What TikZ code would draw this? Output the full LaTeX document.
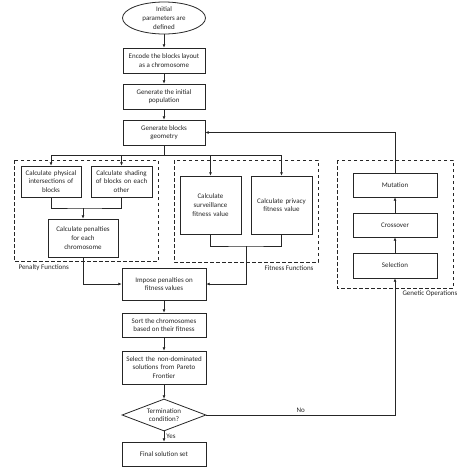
\documentclass[tikz,border=0pt]{standalone}
\usepackage{fontspec}
\setmainfont{Carlito}
\usetikzlibrary{shapes.geometric,arrows.meta}
\definecolor{ink}{HTML}{262626}
\begin{document}
\begin{tikzpicture}[x=1pt,y=-1pt,
  every node/.style={font=\fontsize{7}{8.6}\selectfont, text=ink},
  proc/.style={draw=ink, line width=0.8pt, align=center, inner sep=1pt},
  grp/.style={draw=ink, line width=0.9pt, dash pattern=on 3.5pt off 2.5pt},
  link/.style={draw=ink, line width=0.8pt},
  arr/.style={link, -{Latex[length=3.2pt,width=3pt]}},
  lbl/.style={font=\fontsize{7}{8.6}\selectfont}]
\useasboundingbox (0,0) rectangle (474,469);
% groups
\draw[grp] (14,160) rectangle (158,261);
\draw[grp] (174,160) rectangle (318,262);
\draw[grp] (337,160) rectangle (453,288);
\node[lbl, anchor=west] (lp) at (15,268) {Penalty Functions};
\node[lbl, anchor=east] (lf) at (317,268) {Fitness Functions};
\node[lbl, anchor=west] (lg) at (399,294) {Genetic Operations};
% nodes
\node[proc, ellipse, minimum width=83, minimum height=32, inner sep=0pt] (ell) at (164,18) {Initial\\parameters are\\defined};
\node[proc, minimum width=82, minimum height=25] (enc) at (164,60.5) {Encode the blocks layout\\as a chromosome};
\node[proc, minimum width=82, minimum height=25] (gen) at (164,96.5) {Generate the initial\\population};
\node[proc, minimum width=82, minimum height=25] (geo) at (164,132.5) {Generate blocks\\geometry};
\node[proc, minimum width=60, minimum height=31, text width=58] (phy) at (51,181.5) {Calculate physical\\intersections of\\blocks};
\node[proc, minimum width=61, minimum height=31, text width=59] (sha) at (121.5,181.5) {Calculate shading\\of blocks on each\\other};
\node[proc, minimum width=70, minimum height=38] (pen) at (83,238) {Calculate penalties\\for each\\chromosome};
\node[proc, minimum width=61, minimum height=58, text width=59] (sur) at (210.5,205) {Calculate\\surveillance\\fitness value};
\node[proc, minimum width=61, minimum height=58, text width=59] (pri) at (281.5,205) {Calculate privacy\\fitness value};
\node[proc, minimum width=84, minimum height=32] (imp) at (164,284) {Impose penalties on\\fitness values};
\node[proc, minimum width=84, minimum height=24] (srt) at (164,325) {Sort the chromosomes\\based on their fitness};
\node[proc, minimum width=84, minimum height=33, text width=82] (sel) at (164,367.5) {Select the non-dominated\\solutions from Pareto\\Frontier};
\node[proc, diamond, aspect=2.6, minimum width=84, minimum height=32, inner sep=0pt] (dia) at (164,415) {Termination\\condition?};
\node[proc, minimum width=84, minimum height=24] (fin) at (164,454) {Final solution set};
\node[proc, minimum width=84, minimum height=24] (mut) at (395,185) {Mutation};
\node[proc, minimum width=84, minimum height=24] (cro) at (395,225) {Crossover};
\node[proc, minimum width=84, minimum height=25] (slc) at (395,265.5) {Selection};
% coordinates
\coordinate (bus) at (164,155);
\coordinate (pj) at (83,208);
\coordinate (fj) at (246,246);
% connectors
\draw[arr] (ell) -- (enc);
\draw[arr] (enc) -- (gen);
\draw[arr] (gen) -- (geo);
\draw[link] (geo.south) -- (bus);
\draw[arr] (bus) -| (phy.north);
\draw[arr] (bus) -| (sha.north);
\draw[arr] (bus) -| (sur.north);
\draw[arr] (bus) -| (pri.north);
\draw[link] (phy.south) |- (pj) -| (sha.south);
\draw[arr] (pj) -- (pen.north);
\draw[link] (sur.south) |- (fj) -| (pri.south);
\draw[arr] (pen.south) |- (imp.west);
\draw[arr] (fj) |- (imp.east);
\draw[arr] (imp) -- (srt);
\draw[arr] (srt) -- (sel);
\draw[arr] (sel) -- (dia);
\draw[arr] (dia) -- node[lbl, right, pos=0.45, inner sep=2pt] {Yes} (fin);
\draw[arr] (dia.east) -| node[lbl, above, pos=0.25, inner sep=2pt] {No} (slc.south);
\draw[arr] (slc) -- (cro);
\draw[arr] (cro) -- (mut);
\draw[arr] (mut.north) |- (geo.east);
\end{tikzpicture}
\end{document}
